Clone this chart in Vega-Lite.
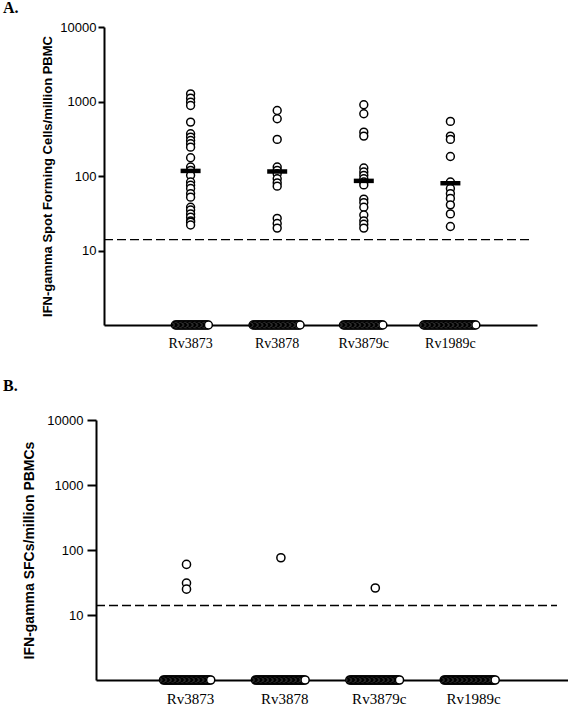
{
  "$schema": "https://vega.github.io/schema/vega-lite/v6.json",
  "padding": {"left": 3, "top": 0, "right": 0, "bottom": 0},
  "background": "white",
  "config": {"view": {"stroke": null}},
  "spacing": 28,
  "datasets": {
    "a": [
      {"antigen":"Rv3873","sfc":1268,"k":0},{"antigen":"Rv3873","sfc":1109,"k":0},{"antigen":"Rv3873","sfc":981,"k":0},{"antigen":"Rv3873","sfc":885,"k":0},{"antigen":"Rv3873","sfc":529,"k":0},{"antigen":"Rv3873","sfc":369,"k":0},{"antigen":"Rv3873","sfc":333,"k":0},{"antigen":"Rv3873","sfc":300,"k":0},{"antigen":"Rv3873","sfc":271,"k":0},{"antigen":"Rv3873","sfc":244,"k":0},{"antigen":"Rv3873","sfc":176,"k":0},{"antigen":"Rv3873","sfc":132,"k":0},{"antigen":"Rv3873","sfc":119,"k":0},{"antigen":"Rv3873","sfc":102,"k":0},{"antigen":"Rv3873","sfc":83,"k":0},{"antigen":"Rv3873","sfc":75,"k":0},{"antigen":"Rv3873","sfc":68,"k":0},{"antigen":"Rv3873","sfc":58,"k":0},{"antigen":"Rv3873","sfc":52,"k":0},{"antigen":"Rv3873","sfc":38,"k":0},{"antigen":"Rv3873","sfc":35,"k":0},{"antigen":"Rv3873","sfc":31,"k":0},{"antigen":"Rv3873","sfc":28,"k":0},{"antigen":"Rv3873","sfc":25,"k":0},{"antigen":"Rv3873","sfc":24,"k":0},{"antigen":"Rv3873","sfc":22,"k":0},
      {"antigen":"Rv3878","sfc":758,"k":0},{"antigen":"Rv3878","sfc":586,"k":0},{"antigen":"Rv3878","sfc":310,"k":0},{"antigen":"Rv3878","sfc":132,"k":0},{"antigen":"Rv3878","sfc":119,"k":0},{"antigen":"Rv3878","sfc":107,"k":0},{"antigen":"Rv3878","sfc":92,"k":0},{"antigen":"Rv3878","sfc":81,"k":0},{"antigen":"Rv3878","sfc":73,"k":0},{"antigen":"Rv3878","sfc":27,"k":0},{"antigen":"Rv3878","sfc":23,"k":0},{"antigen":"Rv3878","sfc":20,"k":0},
      {"antigen":"Rv3879c","sfc":903,"k":0},{"antigen":"Rv3879c","sfc":684,"k":0},{"antigen":"Rv3879c","sfc":388,"k":0},{"antigen":"Rv3879c","sfc":343,"k":0},{"antigen":"Rv3879c","sfc":128,"k":0},{"antigen":"Rv3879c","sfc":113,"k":0},{"antigen":"Rv3879c","sfc":102,"k":0},{"antigen":"Rv3879c","sfc":92,"k":0},{"antigen":"Rv3879c","sfc":83,"k":0},{"antigen":"Rv3879c","sfc":76,"k":0},{"antigen":"Rv3879c","sfc":49,"k":0},{"antigen":"Rv3879c","sfc":44,"k":0},{"antigen":"Rv3879c","sfc":38,"k":0},{"antigen":"Rv3879c","sfc":30,"k":0},{"antigen":"Rv3879c","sfc":25,"k":0},{"antigen":"Rv3879c","sfc":22.5,"k":0},{"antigen":"Rv3879c","sfc":20,"k":0},
      {"antigen":"Rv1989c","sfc":540,"k":0},{"antigen":"Rv1989c","sfc":343,"k":0},{"antigen":"Rv1989c","sfc":310,"k":0},{"antigen":"Rv1989c","sfc":183,"k":0},{"antigen":"Rv1989c","sfc":83,"k":0},{"antigen":"Rv1989c","sfc":68,"k":0},{"antigen":"Rv1989c","sfc":58,"k":0},{"antigen":"Rv1989c","sfc":50,"k":0},{"antigen":"Rv1989c","sfc":41,"k":0},{"antigen":"Rv1989c","sfc":31,"k":0},{"antigen":"Rv1989c","sfc":21,"k":0},
      {"antigen":"Rv3873","sfc":1,"k":-12},{"antigen":"Rv3873","sfc":1,"k":-11},{"antigen":"Rv3873","sfc":1,"k":-10},{"antigen":"Rv3873","sfc":1,"k":-9},{"antigen":"Rv3873","sfc":1,"k":-8},{"antigen":"Rv3873","sfc":1,"k":-7},{"antigen":"Rv3873","sfc":1,"k":-6},{"antigen":"Rv3873","sfc":1,"k":-5},{"antigen":"Rv3873","sfc":1,"k":-4},{"antigen":"Rv3873","sfc":1,"k":-3},{"antigen":"Rv3873","sfc":1,"k":-2},{"antigen":"Rv3873","sfc":1,"k":-1},{"antigen":"Rv3873","sfc":1,"k":0},{"antigen":"Rv3873","sfc":1,"k":1},{"antigen":"Rv3873","sfc":1,"k":2},{"antigen":"Rv3873","sfc":1,"k":3},{"antigen":"Rv3873","sfc":1,"k":4},{"antigen":"Rv3873","sfc":1,"k":5},{"antigen":"Rv3873","sfc":1,"k":6},{"antigen":"Rv3873","sfc":1,"k":7},{"antigen":"Rv3873","sfc":1,"k":8},{"antigen":"Rv3873","sfc":1,"k":9},{"antigen":"Rv3873","sfc":1,"k":10},{"antigen":"Rv3873","sfc":1,"k":11},{"antigen":"Rv3873","sfc":1,"k":12},{"antigen":"Rv3873","sfc":1,"k":13},{"antigen":"Rv3873","sfc":1,"k":14},
      {"antigen":"Rv3878","sfc":1,"k":-19},{"antigen":"Rv3878","sfc":1,"k":-18},{"antigen":"Rv3878","sfc":1,"k":-17},{"antigen":"Rv3878","sfc":1,"k":-16},{"antigen":"Rv3878","sfc":1,"k":-15},{"antigen":"Rv3878","sfc":1,"k":-14},{"antigen":"Rv3878","sfc":1,"k":-13},{"antigen":"Rv3878","sfc":1,"k":-12},{"antigen":"Rv3878","sfc":1,"k":-11},{"antigen":"Rv3878","sfc":1,"k":-10},{"antigen":"Rv3878","sfc":1,"k":-9},{"antigen":"Rv3878","sfc":1,"k":-8},{"antigen":"Rv3878","sfc":1,"k":-7},{"antigen":"Rv3878","sfc":1,"k":-6},{"antigen":"Rv3878","sfc":1,"k":-5},{"antigen":"Rv3878","sfc":1,"k":-4},{"antigen":"Rv3878","sfc":1,"k":-3},{"antigen":"Rv3878","sfc":1,"k":-2},{"antigen":"Rv3878","sfc":1,"k":-1},{"antigen":"Rv3878","sfc":1,"k":0},{"antigen":"Rv3878","sfc":1,"k":1},{"antigen":"Rv3878","sfc":1,"k":2},{"antigen":"Rv3878","sfc":1,"k":3},{"antigen":"Rv3878","sfc":1,"k":4},{"antigen":"Rv3878","sfc":1,"k":5},{"antigen":"Rv3878","sfc":1,"k":6},{"antigen":"Rv3878","sfc":1,"k":7},{"antigen":"Rv3878","sfc":1,"k":8},{"antigen":"Rv3878","sfc":1,"k":9},{"antigen":"Rv3878","sfc":1,"k":10},{"antigen":"Rv3878","sfc":1,"k":11},{"antigen":"Rv3878","sfc":1,"k":12},{"antigen":"Rv3878","sfc":1,"k":13},{"antigen":"Rv3878","sfc":1,"k":14},{"antigen":"Rv3878","sfc":1,"k":15},{"antigen":"Rv3878","sfc":1,"k":16},{"antigen":"Rv3878","sfc":1,"k":17},{"antigen":"Rv3878","sfc":1,"k":18},
      {"antigen":"Rv3879c","sfc":1,"k":-16},{"antigen":"Rv3879c","sfc":1,"k":-15},{"antigen":"Rv3879c","sfc":1,"k":-14},{"antigen":"Rv3879c","sfc":1,"k":-13},{"antigen":"Rv3879c","sfc":1,"k":-12},{"antigen":"Rv3879c","sfc":1,"k":-11},{"antigen":"Rv3879c","sfc":1,"k":-10},{"antigen":"Rv3879c","sfc":1,"k":-9},{"antigen":"Rv3879c","sfc":1,"k":-8},{"antigen":"Rv3879c","sfc":1,"k":-7},{"antigen":"Rv3879c","sfc":1,"k":-6},{"antigen":"Rv3879c","sfc":1,"k":-5},{"antigen":"Rv3879c","sfc":1,"k":-4},{"antigen":"Rv3879c","sfc":1,"k":-3},{"antigen":"Rv3879c","sfc":1,"k":-2},{"antigen":"Rv3879c","sfc":1,"k":-1},{"antigen":"Rv3879c","sfc":1,"k":0},{"antigen":"Rv3879c","sfc":1,"k":1},{"antigen":"Rv3879c","sfc":1,"k":2},{"antigen":"Rv3879c","sfc":1,"k":3},{"antigen":"Rv3879c","sfc":1,"k":4},{"antigen":"Rv3879c","sfc":1,"k":5},{"antigen":"Rv3879c","sfc":1,"k":6},{"antigen":"Rv3879c","sfc":1,"k":7},{"antigen":"Rv3879c","sfc":1,"k":8},{"antigen":"Rv3879c","sfc":1,"k":9},{"antigen":"Rv3879c","sfc":1,"k":10},{"antigen":"Rv3879c","sfc":1,"k":11},{"antigen":"Rv3879c","sfc":1,"k":12},{"antigen":"Rv3879c","sfc":1,"k":13},{"antigen":"Rv3879c","sfc":1,"k":14},{"antigen":"Rv3879c","sfc":1,"k":15},
      {"antigen":"Rv1989c","sfc":1,"k":-21},{"antigen":"Rv1989c","sfc":1,"k":-20},{"antigen":"Rv1989c","sfc":1,"k":-19},{"antigen":"Rv1989c","sfc":1,"k":-18},{"antigen":"Rv1989c","sfc":1,"k":-17},{"antigen":"Rv1989c","sfc":1,"k":-16},{"antigen":"Rv1989c","sfc":1,"k":-15},{"antigen":"Rv1989c","sfc":1,"k":-14},{"antigen":"Rv1989c","sfc":1,"k":-13},{"antigen":"Rv1989c","sfc":1,"k":-12},{"antigen":"Rv1989c","sfc":1,"k":-11},{"antigen":"Rv1989c","sfc":1,"k":-10},{"antigen":"Rv1989c","sfc":1,"k":-9},{"antigen":"Rv1989c","sfc":1,"k":-8},{"antigen":"Rv1989c","sfc":1,"k":-7},{"antigen":"Rv1989c","sfc":1,"k":-6},{"antigen":"Rv1989c","sfc":1,"k":-5},{"antigen":"Rv1989c","sfc":1,"k":-4},{"antigen":"Rv1989c","sfc":1,"k":-3},{"antigen":"Rv1989c","sfc":1,"k":-2},{"antigen":"Rv1989c","sfc":1,"k":-1},{"antigen":"Rv1989c","sfc":1,"k":0},{"antigen":"Rv1989c","sfc":1,"k":1},{"antigen":"Rv1989c","sfc":1,"k":2},{"antigen":"Rv1989c","sfc":1,"k":3},{"antigen":"Rv1989c","sfc":1,"k":4},{"antigen":"Rv1989c","sfc":1,"k":5},{"antigen":"Rv1989c","sfc":1,"k":6},{"antigen":"Rv1989c","sfc":1,"k":7},{"antigen":"Rv1989c","sfc":1,"k":8},{"antigen":"Rv1989c","sfc":1,"k":9},{"antigen":"Rv1989c","sfc":1,"k":10},{"antigen":"Rv1989c","sfc":1,"k":11},{"antigen":"Rv1989c","sfc":1,"k":12},{"antigen":"Rv1989c","sfc":1,"k":13},{"antigen":"Rv1989c","sfc":1,"k":14},{"antigen":"Rv1989c","sfc":1,"k":15},{"antigen":"Rv1989c","sfc":1,"k":16},{"antigen":"Rv1989c","sfc":1,"k":17},{"antigen":"Rv1989c","sfc":1,"k":18},{"antigen":"Rv1989c","sfc":1,"k":19},{"antigen":"Rv1989c","sfc":1,"k":20}
    ],
    "amed": [
      {"antigen":"Rv3873","median":117},{"antigen":"Rv3878","median":115},{"antigen":"Rv3879c","median":86},{"antigen":"Rv1989c","median":80}
    ],
    "b": [
      {"antigen":"Rv3873","sfc":60,"k":0},{"antigen":"Rv3873","sfc":31,"k":0},{"antigen":"Rv3873","sfc":25,"k":0},
      {"antigen":"Rv3878","sfc":76,"k":0},
      {"antigen":"Rv3879c","sfc":26,"k":0},
      {"antigen":"Rv3873","sfc":1,"k":-18},{"antigen":"Rv3873","sfc":1,"k":-17},{"antigen":"Rv3873","sfc":1,"k":-16},{"antigen":"Rv3873","sfc":1,"k":-15},{"antigen":"Rv3873","sfc":1,"k":-14},{"antigen":"Rv3873","sfc":1,"k":-13},{"antigen":"Rv3873","sfc":1,"k":-12},{"antigen":"Rv3873","sfc":1,"k":-11},{"antigen":"Rv3873","sfc":1,"k":-10},{"antigen":"Rv3873","sfc":1,"k":-9},{"antigen":"Rv3873","sfc":1,"k":-8},{"antigen":"Rv3873","sfc":1,"k":-7},{"antigen":"Rv3873","sfc":1,"k":-6},{"antigen":"Rv3873","sfc":1,"k":-5},{"antigen":"Rv3873","sfc":1,"k":-4},{"antigen":"Rv3873","sfc":1,"k":-3},{"antigen":"Rv3873","sfc":1,"k":-2},{"antigen":"Rv3873","sfc":1,"k":-1},{"antigen":"Rv3873","sfc":1,"k":0},{"antigen":"Rv3873","sfc":1,"k":1},{"antigen":"Rv3873","sfc":1,"k":2},{"antigen":"Rv3873","sfc":1,"k":3},{"antigen":"Rv3873","sfc":1,"k":4},{"antigen":"Rv3873","sfc":1,"k":5},{"antigen":"Rv3873","sfc":1,"k":6},{"antigen":"Rv3873","sfc":1,"k":7},{"antigen":"Rv3873","sfc":1,"k":8},{"antigen":"Rv3873","sfc":1,"k":9},{"antigen":"Rv3873","sfc":1,"k":10},{"antigen":"Rv3873","sfc":1,"k":11},{"antigen":"Rv3873","sfc":1,"k":12},{"antigen":"Rv3873","sfc":1,"k":13},{"antigen":"Rv3873","sfc":1,"k":14},{"antigen":"Rv3873","sfc":1,"k":15},{"antigen":"Rv3873","sfc":1,"k":16},{"antigen":"Rv3873","sfc":1,"k":17},{"antigen":"Rv3873","sfc":1,"k":18},{"antigen":"Rv3873","sfc":1,"k":19},
      {"antigen":"Rv3878","sfc":1,"k":-20},{"antigen":"Rv3878","sfc":1,"k":-19},{"antigen":"Rv3878","sfc":1,"k":-18},{"antigen":"Rv3878","sfc":1,"k":-17},{"antigen":"Rv3878","sfc":1,"k":-16},{"antigen":"Rv3878","sfc":1,"k":-15},{"antigen":"Rv3878","sfc":1,"k":-14},{"antigen":"Rv3878","sfc":1,"k":-13},{"antigen":"Rv3878","sfc":1,"k":-12},{"antigen":"Rv3878","sfc":1,"k":-11},{"antigen":"Rv3878","sfc":1,"k":-10},{"antigen":"Rv3878","sfc":1,"k":-9},{"antigen":"Rv3878","sfc":1,"k":-8},{"antigen":"Rv3878","sfc":1,"k":-7},{"antigen":"Rv3878","sfc":1,"k":-6},{"antigen":"Rv3878","sfc":1,"k":-5},{"antigen":"Rv3878","sfc":1,"k":-4},{"antigen":"Rv3878","sfc":1,"k":-3},{"antigen":"Rv3878","sfc":1,"k":-2},{"antigen":"Rv3878","sfc":1,"k":-1},{"antigen":"Rv3878","sfc":1,"k":0},{"antigen":"Rv3878","sfc":1,"k":1},{"antigen":"Rv3878","sfc":1,"k":2},{"antigen":"Rv3878","sfc":1,"k":3},{"antigen":"Rv3878","sfc":1,"k":4},{"antigen":"Rv3878","sfc":1,"k":5},{"antigen":"Rv3878","sfc":1,"k":6},{"antigen":"Rv3878","sfc":1,"k":7},{"antigen":"Rv3878","sfc":1,"k":8},{"antigen":"Rv3878","sfc":1,"k":9},{"antigen":"Rv3878","sfc":1,"k":10},{"antigen":"Rv3878","sfc":1,"k":11},{"antigen":"Rv3878","sfc":1,"k":12},{"antigen":"Rv3878","sfc":1,"k":13},{"antigen":"Rv3878","sfc":1,"k":14},{"antigen":"Rv3878","sfc":1,"k":15},{"antigen":"Rv3878","sfc":1,"k":16},{"antigen":"Rv3878","sfc":1,"k":17},{"antigen":"Rv3878","sfc":1,"k":18},{"antigen":"Rv3878","sfc":1,"k":19},
      {"antigen":"Rv3879c","sfc":1,"k":-20},{"antigen":"Rv3879c","sfc":1,"k":-19},{"antigen":"Rv3879c","sfc":1,"k":-18},{"antigen":"Rv3879c","sfc":1,"k":-17},{"antigen":"Rv3879c","sfc":1,"k":-16},{"antigen":"Rv3879c","sfc":1,"k":-15},{"antigen":"Rv3879c","sfc":1,"k":-14},{"antigen":"Rv3879c","sfc":1,"k":-13},{"antigen":"Rv3879c","sfc":1,"k":-12},{"antigen":"Rv3879c","sfc":1,"k":-11},{"antigen":"Rv3879c","sfc":1,"k":-10},{"antigen":"Rv3879c","sfc":1,"k":-9},{"antigen":"Rv3879c","sfc":1,"k":-8},{"antigen":"Rv3879c","sfc":1,"k":-7},{"antigen":"Rv3879c","sfc":1,"k":-6},{"antigen":"Rv3879c","sfc":1,"k":-5},{"antigen":"Rv3879c","sfc":1,"k":-4},{"antigen":"Rv3879c","sfc":1,"k":-3},{"antigen":"Rv3879c","sfc":1,"k":-2},{"antigen":"Rv3879c","sfc":1,"k":-1},{"antigen":"Rv3879c","sfc":1,"k":0},{"antigen":"Rv3879c","sfc":1,"k":1},{"antigen":"Rv3879c","sfc":1,"k":2},{"antigen":"Rv3879c","sfc":1,"k":3},{"antigen":"Rv3879c","sfc":1,"k":4},{"antigen":"Rv3879c","sfc":1,"k":5},{"antigen":"Rv3879c","sfc":1,"k":6},{"antigen":"Rv3879c","sfc":1,"k":7},{"antigen":"Rv3879c","sfc":1,"k":8},{"antigen":"Rv3879c","sfc":1,"k":9},{"antigen":"Rv3879c","sfc":1,"k":10},{"antigen":"Rv3879c","sfc":1,"k":11},{"antigen":"Rv3879c","sfc":1,"k":12},{"antigen":"Rv3879c","sfc":1,"k":13},{"antigen":"Rv3879c","sfc":1,"k":14},{"antigen":"Rv3879c","sfc":1,"k":15},{"antigen":"Rv3879c","sfc":1,"k":16},{"antigen":"Rv3879c","sfc":1,"k":17},{"antigen":"Rv3879c","sfc":1,"k":18},{"antigen":"Rv3879c","sfc":1,"k":19},
      {"antigen":"Rv1989c","sfc":1,"k":-20},{"antigen":"Rv1989c","sfc":1,"k":-19},{"antigen":"Rv1989c","sfc":1,"k":-18},{"antigen":"Rv1989c","sfc":1,"k":-17},{"antigen":"Rv1989c","sfc":1,"k":-16},{"antigen":"Rv1989c","sfc":1,"k":-15},{"antigen":"Rv1989c","sfc":1,"k":-14},{"antigen":"Rv1989c","sfc":1,"k":-13},{"antigen":"Rv1989c","sfc":1,"k":-12},{"antigen":"Rv1989c","sfc":1,"k":-11},{"antigen":"Rv1989c","sfc":1,"k":-10},{"antigen":"Rv1989c","sfc":1,"k":-9},{"antigen":"Rv1989c","sfc":1,"k":-8},{"antigen":"Rv1989c","sfc":1,"k":-7},{"antigen":"Rv1989c","sfc":1,"k":-6},{"antigen":"Rv1989c","sfc":1,"k":-5},{"antigen":"Rv1989c","sfc":1,"k":-4},{"antigen":"Rv1989c","sfc":1,"k":-3},{"antigen":"Rv1989c","sfc":1,"k":-2},{"antigen":"Rv1989c","sfc":1,"k":-1},{"antigen":"Rv1989c","sfc":1,"k":0},{"antigen":"Rv1989c","sfc":1,"k":1},{"antigen":"Rv1989c","sfc":1,"k":2},{"antigen":"Rv1989c","sfc":1,"k":3},{"antigen":"Rv1989c","sfc":1,"k":4},{"antigen":"Rv1989c","sfc":1,"k":5},{"antigen":"Rv1989c","sfc":1,"k":6},{"antigen":"Rv1989c","sfc":1,"k":7},{"antigen":"Rv1989c","sfc":1,"k":8},{"antigen":"Rv1989c","sfc":1,"k":9},{"antigen":"Rv1989c","sfc":1,"k":10},{"antigen":"Rv1989c","sfc":1,"k":11},{"antigen":"Rv1989c","sfc":1,"k":12},{"antigen":"Rv1989c","sfc":1,"k":13},{"antigen":"Rv1989c","sfc":1,"k":14},{"antigen":"Rv1989c","sfc":1,"k":15},{"antigen":"Rv1989c","sfc":1,"k":16},{"antigen":"Rv1989c","sfc":1,"k":17},{"antigen":"Rv1989c","sfc":1,"k":18},{"antigen":"Rv1989c","sfc":1,"k":19},{"antigen":"Rv1989c","sfc":1,"k":20}
    ]
  },
  "vconcat": [
    {
      "width": 441,
      "height": 298,
      "title": {"text": "A.", "anchor": "start", "frame": "group", "dx": -93, "font": "Liberation Serif", "fontSize": 16, "fontWeight": "bold", "color": "black", "offset": 5},
      "resolve": {"scale": {"x": "independent"}},
      "layer": [
        {
          "layer": [
            {
              "data": {"name": "a"},
              "mark": {"type": "point", "shape": "circle", "filled": true, "fill": "white", "stroke": "black", "strokeWidth": 1.5, "size": 62, "opacity": 1},
              "encoding": {
                "x": {"field": "antigen", "type": "nominal", "sort": ["Rv3873", "Rv3878", "Rv3879c", "Rv1989c"],
                      "scale": {"paddingInner": 0, "paddingOuter": 0.5, "range": [8, 441]},
                      "axis": {"title": null, "labelAngle": 0, "ticks": false, "domainWidth": 2, "domainColor": "black", "labelFont": "Liberation Serif", "labelFontSize": 14, "labelColor": "black", "labelPadding": 11}},
                "xOffset": {"field": "k", "type": "quantitative", "scale": {"domain": [-31, 31]}},
                "y": {"field": "sfc", "type": "quantitative", "scale": {"type": "log", "domain": [1, 10000]},
                      "axis": {"values": [10, 100, 1000, 10000], "format": "d", "grid": false, "offset": -8, "domainWidth": 2, "domainColor": "black", "tickSize": 6, "tickWidth": 2, "tickColor": "black", "labelFont": "Liberation Sans", "labelFontSize": 13, "labelColor": "black", "labelPadding": 2,
                               "title": "IFN-gamma Spot Forming Cells/million PBMC", "titleFont": "Liberation Sans", "titleFontSize": 13, "titleFontWeight": "bold", "titleColor": "black", "titlePadding": 5}}
              }
            },
            {
              "data": {"name": "amed"},
              "mark": {"type": "tick", "color": "black", "thickness": 4.5, "size": 20, "opacity": 1},
              "encoding": {
                "x": {"field": "antigen", "type": "nominal", "sort": ["Rv3873", "Rv3878", "Rv3879c", "Rv1989c"]},
                "y": {"field": "median", "type": "quantitative"}
              }
            }
          ]
        },
        {
          "data": {"values": [{}]},
          "mark": {"type": "rule", "color": "black", "strokeWidth": 1.3, "strokeDash": [9, 4]},
          "encoding": {
            "x": {"datum": 0, "type": "quantitative", "scale": {"domain": [0, 1], "range": [8, 433]}, "axis": null},
            "x2": {"datum": 1},
            "y": {"datum": 14, "type": "quantitative"}
          }
        }
      ]
    },
    {
      "width": 472,
      "height": 260,
      "title": {"text": "B.", "anchor": "start", "frame": "group", "dx": -93, "font": "Liberation Serif", "fontSize": 16, "fontWeight": "bold", "color": "black", "offset": 20},
      "resolve": {"scale": {"x": "independent"}},
      "layer": [
        {
          "data": {"name": "b"},
          "mark": {"type": "point", "shape": "circle", "filled": true, "fill": "white", "stroke": "black", "strokeWidth": 1.5, "size": 66, "opacity": 1},
          "encoding": {
            "x": {"field": "antigen", "type": "nominal", "sort": ["Rv3873", "Rv3878", "Rv3879c", "Rv1989c"],
                  "scale": {"paddingInner": 0, "paddingOuter": 0.5},
                  "axis": {"title": null, "labelAngle": 0, "ticks": false, "domainWidth": 2, "domainColor": "black", "labelFont": "Liberation Serif", "labelFontSize": 15, "labelColor": "black", "labelPadding": 11}},
            "xOffset": {"field": "k", "type": "quantitative", "scale": {"domain": [-34, 34]}},
            "y": {"field": "sfc", "type": "quantitative", "scale": {"type": "log", "domain": [1, 10000]},
                  "axis": {"values": [10, 100, 1000, 10000], "format": "d", "grid": false, "domainWidth": 2, "domainColor": "black", "tickSize": 9, "tickWidth": 2, "tickColor": "black", "labelFont": "Liberation Sans", "labelFontSize": 13, "labelColor": "black", "labelPadding": 4,
                           "title": "IFN-gamma SFCs/million PBMCs", "titleFont": "Liberation Sans", "titleFontSize": 14, "titleFontWeight": "bold", "titleColor": "black", "titlePadding": 10}}
          }
        },
        {
          "data": {"values": [{}]},
          "mark": {"type": "rule", "color": "black", "strokeWidth": 1.3, "strokeDash": [9, 4]},
          "encoding": {
            "x": {"datum": 0, "type": "quantitative", "scale": {"domain": [0, 1], "range": [0, 461]}, "axis": null},
            "x2": {"datum": 1},
            "y": {"datum": 14, "type": "quantitative"}
          }
        }
      ]
    }
  ]
}
